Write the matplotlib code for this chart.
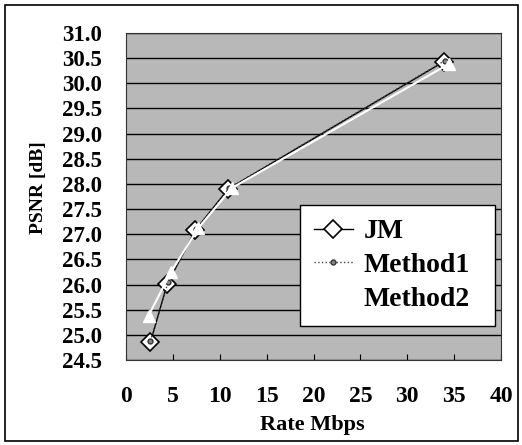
import matplotlib
matplotlib.use("Agg")
import matplotlib.pyplot as plt
from matplotlib.patches import Rectangle
import numpy as np

plt.rcParams['font.family'] = ['Liberation Serif', 'DejaVu Serif']
plt.rcParams['font.weight'] = 'bold'

series_names = ["JM", "Method1", "Method2"]
jm_rate = [2.6, 4.4, 7.4, 10.9, 33.9]
jm_psnr = [24.85, 26.01, 27.08, 27.90, 30.43]
m1_rate = [2.6, 4.5, 7.5, 11.0, 34.0]
m1_psnr = [24.88, 26.05, 27.10, 27.92, 30.45]
m2_rate = [2.4, 4.8, 7.7, 11.3, 34.4]
m2_psnr = [25.38, 26.25, 27.12, 27.92, 30.38]

x_ticks = [0, 5, 10, 15, 20, 25, 30, 35, 40]
y_ticks = [24.5, 25.0, 25.5, 26.0, 26.5, 27.0, 27.5, 28.0, 28.5, 29.0, 29.5, 30.0, 30.5, 31.0]

fig = plt.figure(figsize=(5.22, 4.45), dpi=100)
ax = fig.add_axes([126/522, 1-360/445, 375/522, 327/445])
ax.set_facecolor('#b8b8b8')

ax.set_xlim(0, 40)
ax.set_ylim(24.5, 31.0)
ax.set_xticks(x_ticks)
ax.set_yticks(y_ticks)
xtick_font = {'size': 17, 'weight': 'bold', 'family': 'Liberation Serif'}
ytick_font = {'size': 16.5, 'weight': 'bold', 'family': 'Liberation Serif'}
ax.set_xticklabels([str(v) for v in x_ticks], fontdict=xtick_font)
ax.set_yticklabels([f"{v:.1f}" for v in y_ticks], fontdict=ytick_font)
ax.tick_params(axis='y', length=0, pad=17)
ax.tick_params(axis='x', direction='in', length=4, pad=19, width=0.8)
ax.yaxis.grid(True, color='black', linewidth=1.0)
ax.set_axisbelow(True)
for s in ax.spines.values():
    s.set_color('#333333')
    s.set_linewidth(0.8)

l1, = ax.plot(jm_rate, jm_psnr, color='black', linewidth=1.0, marker='D',
              markersize=9, markerfacecolor='white', markeredgecolor='black',
              markeredgewidth=1.2, label=series_names[0], zorder=3)
l2, = ax.plot(m1_rate, m1_psnr, color='#444444', linewidth=1.0, linestyle=':',
              marker='o', markersize=3.5, markerfacecolor='#888888',
              markeredgecolor='#333333', label=series_names[1], zorder=4)
l3, = ax.plot(m2_rate, m2_psnr, color='white', linewidth=1.5, marker='^',
              markersize=8, markerfacecolor='white', markeredgecolor='white',
              label=series_names[2], zorder=5)

ax.set_xlabel("Rate Mbps", fontsize=16, fontweight='bold', family='Liberation Serif')
ax.set_ylabel("PSNR [dB]", fontsize=14, fontweight='bold', family='Liberation Serif')
ax.xaxis.set_label_coords(0.497, -0.168)
ax.yaxis.set_label_coords(-0.212, 0.527)

leg = ax.legend(handles=[l1, l2, l3], loc='upper left', mode='expand',
                bbox_to_anchor=(0.464, 0.116, 0.52, 0.358),
                prop={'weight': 'bold', 'size': 20, 'family': 'Liberation Serif'},
                frameon=True, fancybox=False, edgecolor='black', framealpha=1,
                handlelength=1.4, handletextpad=0.4, labelspacing=0.3,
                borderpad=0.5, borderaxespad=0)
leg.get_frame().set_linewidth(1.0)
leg.get_frame().set_facecolor('white')

fig.patches.append(Rectangle((5/522, 4/445), 513/522, 436/445,
                             transform=fig.transFigure, fill=False,
                             edgecolor='black', linewidth=1.2))

fig.savefig("out.png", dpi=100)
